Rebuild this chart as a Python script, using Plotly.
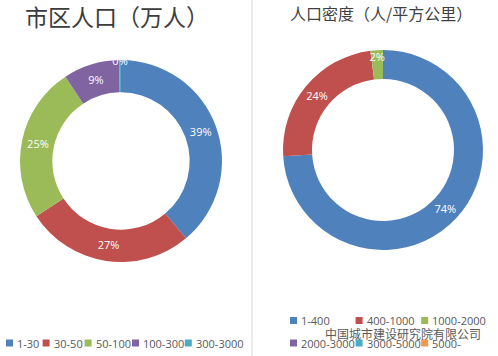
import plotly.graph_objects as go

# Left donut: 市区人口（万人）
pop_labels = ["1-30", "30-50", "50-100", "100-300", "300-3000"]
pop_values = [39, 27, 25, 9, 0.3]

# Right donut: 人口密度（人/平方公里）
den_labels = ["1-400", "400-1000", "1000-2000", "2000-3000", "3000-5000", "5000-"]
den_values = [74, 24, 2, 0, 0, 0]

colors = ["#4F81BD", "#C0504D", "#9BBB59", "#8064A2", "#4BACC6", "#F79646"]

W, H = 498, 356


def px(x):
    return x / W


def py(y):
    return 1 - y / H


def tmpl(values):
    return ["%{percent:.0%}" if v > 0 else "" for v in values]


fig = go.Figure()
fig.add_trace(go.Pie(
    labels=pop_labels, values=pop_values, hole=0.68, sort=False,
    direction="clockwise", rotation=0,
    marker=dict(colors=colors[:len(pop_labels)], line=dict(width=0)),
    texttemplate=tmpl(pop_values), textposition="inside",
    insidetextorientation="horizontal",
    textfont=dict(color="white", size=11, family="Open Sans"),
    domain=dict(x=[px(20), px(222)], y=[py(262), py(60)]),
    hoverinfo="label+percent", showlegend=False,
))
fig.add_trace(go.Pie(
    labels=den_labels, values=den_values, hole=0.71, sort=False,
    direction="clockwise", rotation=0,
    marker=dict(colors=colors[:len(den_labels)], line=dict(width=0)),
    texttemplate=tmpl(den_values), textposition="inside",
    insidetextorientation="horizontal",
    textfont=dict(color="white", size=11, family="Open Sans"),
    domain=dict(x=[px(283), px(483)], y=[py(250), py(50)]),
    hoverinfo="label+percent", showlegend=False,
))

annotations = [
    dict(text="市区人口（万人）", x=px(23), y=py(16), xref="paper", yref="paper",
         xanchor="left", yanchor="middle", showarrow=False,
         font=dict(size=23, color="#3c3c3c", family="Noto Sans CJK SC")),
    dict(text="人口密度（人/平方公里）", x=px(381), y=py(13), xref="paper", yref="paper",
         xanchor="center", yanchor="middle", showarrow=False,
         font=dict(size=16, color="#404040", family="Noto Sans CJK SC")),
    dict(text="中国城市建设研究院有限公司", x=px(483), y=py(333), xref="paper", yref="paper",
         xanchor="right", yanchor="middle", showarrow=False,
         font=dict(size=12, color="#5a5a5a", family="Noto Sans CJK SC")),
]
shapes = [
    dict(type="line", xref="paper", yref="paper", x0=px(252), x1=px(252), y0=0, y1=1,
         line=dict(color="#d9d9d9", width=1)),
]

# Legend styling (Excel-like compact legend)
CHAR_W = 5.4
MARK = 7
MARK_GAP = 9
ITEM_GAP = 6
legend_font = dict(size=11, color="#595959", family="Open Sans")


def legend_entry(x, y, label, color):
    shapes.append(dict(type="rect", xref="paper", yref="paper",
                       x0=px(x), x1=px(x + MARK), y0=py(y + MARK / 2), y1=py(y - MARK / 2),
                       fillcolor=color, line=dict(width=0)))
    annotations.append(dict(text=label, x=px(x + MARK_GAP), y=py(y), xref="paper", yref="paper",
                            xanchor="left", yanchor="middle", showarrow=False,
                            font=legend_font))


# Left legend: single row, flowing widths
lx = 6
for lab, col in zip(pop_labels, colors):
    legend_entry(lx, 343, lab, col)
    lx += MARK_GAP + len(lab) * CHAR_W + ITEM_GAP

# Right legend: 3-column grid
col_w = MARK_GAP + max(len(s) for s in den_labels) * CHAR_W + 8
for i, (lab, col) in enumerate(zip(den_labels, colors)):
    r, c = divmod(i, 3)
    legend_entry(290 + c * col_w, 320.5 + r * 22.5, lab, col)

fig.update_layout(
    width=W, height=H,
    margin=dict(l=0, r=0, t=0, b=0, autoexpand=False),
    paper_bgcolor="white", plot_bgcolor="white",
    uniformtext=dict(minsize=11, mode="show"),
    showlegend=False,
    annotations=annotations,
    shapes=shapes,
)

fig.write_html(
    "out.html",
    config={"displayModeBar": False},
    post_script="document.body.style.margin='0';document.body.style.padding='0';",
)
